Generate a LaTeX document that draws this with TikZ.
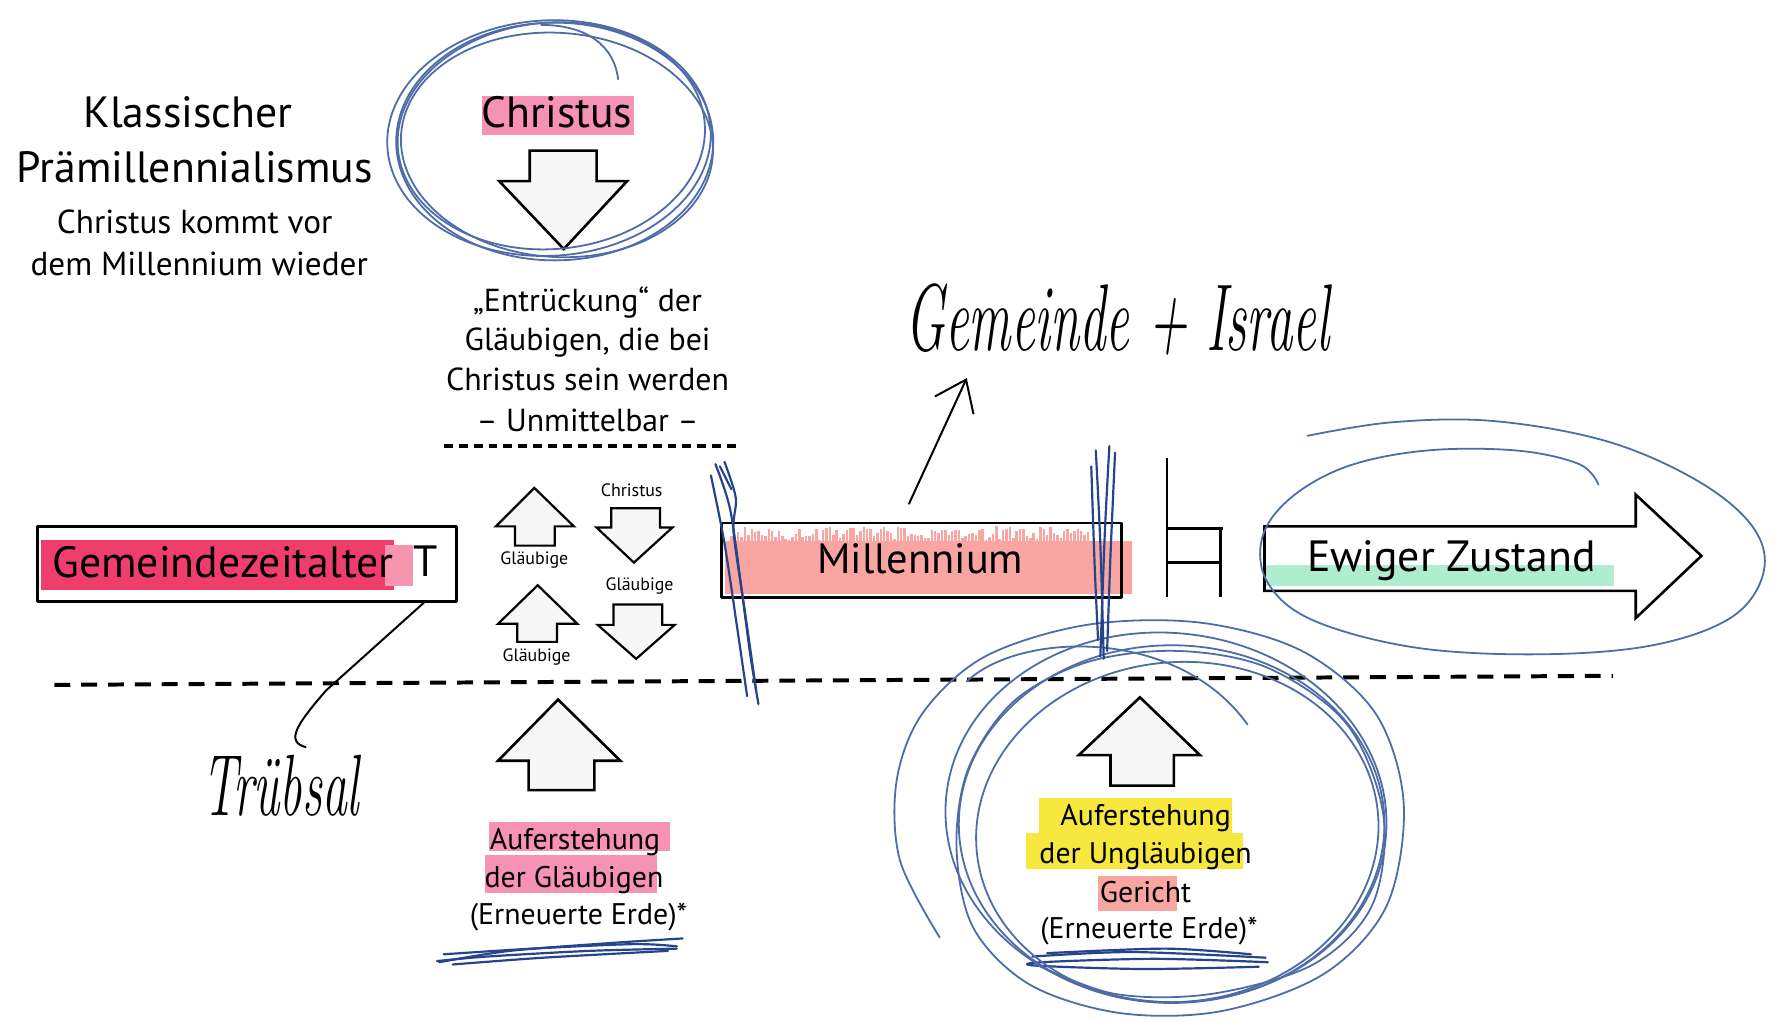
\documentclass[tikz,border=0pt]{standalone}
\usepackage{fontspec}
\setmainfont{PT Sans}
\newfontfamily\handfont{Latin Modern Roman}
\usetikzlibrary{arrows.meta}
\definecolor{penblue}{RGB}{78,108,168}
\definecolor{navy}{RGB}{38,68,140}
\definecolor{hlpink}{RGB}{240,62,108}
\definecolor{hlrose}{RGB}{246,146,182}
\definecolor{hlsalmon}{RGB}{249,166,162}
\definecolor{hlyellow}{RGB}{246,232,62}
\definecolor{hlmint}{RGB}{176,236,208}
\begin{document}
\begin{tikzpicture}[x=0.02cm,y=-0.02cm,line join=round]
\tikzset{
 shapeln/.style={draw=black,line width=1.3pt,fill=black!3,line join=miter},
 pen/.style={draw=penblue,line width=0.9pt,line cap=round},
 strike/.style={draw=navy,line width=1.1pt,line cap=round},
 handln/.style={draw=black,line width=1pt,line cap=round},
 bigtxt/.style={font=\fontsize{22}{26}\selectfont,inner sep=0pt,anchor=base},
 midtxt/.style={font=\fontsize{16}{20}\selectfont,inner sep=0pt,anchor=base},
 subtxt/.style={font=\fontsize{16.7}{20}\selectfont,inner sep=0pt,anchor=base},
 smalltxt/.style={font=\fontsize{9}{11}\selectfont,inner sep=0pt,anchor=base},
 lbltxt/.style={font=\fontsize{15}{19}\selectfont,inner sep=0pt,anchor=base},
 handtxt/.style={font=\handfont\itshape,inner sep=0pt,anchor=base},
 boxnode/.style={draw=black,line width=1.5pt,inner sep=0pt},
}
\useasboundingbox (0,0) rectangle (1568,902);
\fill[white] (0,0) rectangle (1568,902);

% ---------- title ----------
\node[bigtxt] (t1) at (166,113) {Klassischer};
\node[bigtxt] (t2) at (172,161) {Prämillennialismus};
\node[subtxt] (t3) at (172,206) {Christus kommt vor};
\node[subtxt] (t4) at (176,243) {dem Millennium wieder};

% ---------- Christus circle ----------
\fill[hlrose] (426,85) rectangle (560,119);
\node[bigtxt] (chr) at (492,113) {Christus};
\draw[shapeln] (468,133)--(527,133)--(527,160)--(554,160)--(498,220)--(441,160)--(468,160)--cycle;
\draw[pen] (490,125) ellipse [x radius=140,y radius=105];
\draw[pen,rotate around={5:(487,120)}] (487,120) ellipse [x radius=136,y radius=100];
\draw[pen,rotate around={-4:(492,128)}] (492,128) ellipse [x radius=138,y radius=99];
\draw[pen,rotate around={3:(485,122)}] (485,122) ellipse [x radius=143,y radius=104];
\draw[pen] (546,70) .. controls (543,42) and (520,22) .. (478,22);

\node[midtxt] (e1) at (519,275) {„Entrückung“ der};
\node[midtxt] (e2) at (519,310) {Gläubigen, die bei};
\node[midtxt] (e3) at (519,345) {Christus sein werden};
\node[midtxt] (e4) at (519,381) {– Unmittelbar –};
\draw[line width=2.2pt,dash pattern=on 4.5pt off 3pt] (392,394) -- (655,394);

% ---------- long dashed line ----------
\draw[line width=2pt,dash pattern=on 8pt off 5.5pt] (48,605) -- (1425,597);

% ---------- Gemeindezeitalter ----------
\fill[hlpink] (36,477) rectangle (348,521);
\fill[hlpink!55] (340,481) rectangle (365,518);
\node[boxnode,minimum width=7.4cm,minimum height=1.32cm] (gzbox) at (218,498) {};
\node[bigtxt] (gz) at (197,510) {Gemeindezeitalter};
\node[bigtxt] (gzT) at (376,509) {T};

% ---------- small arrows ----------
\draw[shapeln,line width=1.1pt] (455,482)--(490,482)--(490,465)--(507,465)--(472,431)--(438,465)--(455,465)--cycle;
\draw[shapeln,line width=1.1pt] (540,449)--(583,449)--(583,466)--(594,466)--(560,497)--(527,466)--(540,466)--cycle;
\draw[shapeln,line width=1.1pt] (457,567)--(492,567)--(492,551)--(510,551)--(475,517)--(440,551)--(457,551)--cycle;
\draw[shapeln,line width=1.1pt] (542,534)--(585,534)--(585,552)--(596,552)--(562,582)--(528,552)--(542,552)--cycle;
\node[smalltxt] (s1) at (558,439) {Christus};
\node[smalltxt] (s2) at (472,499) {Gläubige};
\node[smalltxt] (s3) at (565,522) {Gläubige};
\node[smalltxt] (s4) at (474,584) {Gläubige};

% ---------- Millennium ----------
\fill[hlsalmon] (640,478) rectangle (1000,525);
\pgfmathsetseed{11}
\foreach \i in {0,...,105} {
  \pgfmathsetmacro\xx{645+\i*3}
  \pgfmathsetmacro\hh{465+rnd*13}
  \fill[hlsalmon] (\xx,\hh) rectangle (\xx+2.2,480);
}
\node[boxnode,minimum width=7.08cm,minimum height=1.32cm] (mbox) at (814,495) {};
\node[bigtxt,font=\fontsize{21.3}{26}\selectfont] (mil) at (813,507) {Millennium};

% ---------- H symbol ----------
\draw[line width=1.3pt] (1031,405) -- (1031,527);
\draw[line width=1.3pt] (1078,467) -- (1078,527);
\draw[line width=1.3pt] (1031,467) -- (1080,467);
\draw[line width=1.3pt] (1031,497) -- (1078,497);

% ---------- Ewiger Zustand ----------
\draw[shapeln,fill=white] (1117,465)--(1445,465)--(1445,437)--(1503,491)--(1445,546)--(1445,522)--(1117,522)--cycle;
\fill[hlmint] (1118,499) rectangle (1426,518);
\node[bigtxt] (ew) at (1282,505) {Ewiger Zustand};
\draw[pen] plot[smooth,tension=0.6] coordinates {(1155,385) (1230,373) (1320,372) (1420,390) (1500,425) (1548,465) (1558,505) (1530,545) (1460,570) (1360,578) (1250,572) (1160,548) (1120,515) (1115,475) (1140,440) (1190,412) (1260,398) (1340,398) (1395,410) (1412,428)};

% ---------- handwriting ----------
\node[handtxt] (gi) at (987,310) {\scalebox{1}[1.8]{\fontsize{26.5}{30}\selectfont Gemeinde + Israel}};
\coordinate (gistart) at (803,445);
\coordinate (gitip) at (854,334);
\draw[handln,-{Straight Barb[length=0.5cm,width=0.75cm]}] (gistart) -- (gitip);

\node[handtxt] (trub) at (248,720) {\scalebox{1}[1.75]{\fontsize{25}{28}\selectfont Trübsal}};
\coordinate (tstart) at (376,531);
\coordinate (tend) at (270,660);
\draw[handln] (tstart) -- (288,610) .. controls (262,640) and (252,655) .. (tend);

% ---------- lower left ----------
\draw[shapeln] (467,698)--(525,698)--(525,672)--(548,672)--(493,618)--(440,672)--(467,672)--cycle;
\fill[hlrose] (432,726) rectangle (592,752);
\fill[hlrose] (428,755) rectangle (580,789);
\node[lbltxt] (l1) at (508,750) {Auferstehung};
\node[lbltxt] (l2) at (507,784) {der Gläubigen};
\node[lbltxt] (l3) at (511,817) {(Erneuerte Erde)*};
\draw[strike] plot[smooth] coordinates {(388,850) (450,840) (540,833) (603,829)};
\draw[strike] plot[smooth] coordinates {(392,843) (470,838) (560,834) (598,836)};
\draw[strike] plot[smooth] coordinates {(598,838) (520,840) (430,845) (386,849)};
\draw[strike] plot[smooth] coordinates {(400,852) (480,846) (590,840)};

% ---------- lower right ----------
\draw[shapeln] (981,694)--(1037,694)--(1037,667)--(1060,667)--(1007,616)--(953,667)--(981,667)--cycle;
\fill[hlyellow] (918,705) rectangle (1088,736);
\fill[hlyellow] (906,736) rectangle (1098,768);
\fill[hlsalmon] (970,774) rectangle (1040,805);
\node[lbltxt] (r1) at (1012,729) {Auferstehung};
\node[lbltxt] (r2) at (1012,763) {der Ungläubigen};
\node[lbltxt] (r3) at (1012,797) {Gericht};
\node[lbltxt] (r4) at (1015,829) {(Erneuerte Erde)*};
\draw[strike] plot[smooth] coordinates {(912,845) (1000,841) (1118,846)};
\draw[strike] plot[smooth] coordinates {(1120,850) (1020,847) (920,850) (915,853) (1010,856) (1112,854)};
\draw[strike] plot[smooth] coordinates {(925,842) (1030,838) (1105,843)};

\draw[pen] plot[smooth,tension=0.55] coordinates {(830,828) (795,760) (792,690) (815,630) (870,580) (960,552) (1060,550) (1150,575) (1215,630) (1240,710) (1225,800) (1170,860) (1080,893) (990,895) (910,870) (860,820) (845,750) (855,680) (895,620) (960,585) (1040,575) (1120,590) (1190,640) (1222,720) (1212,800) (1160,852) (1070,878) (985,878) (915,852)};
\draw[pen] (1035,728) ellipse [x radius=188,y radius=158];
\draw[pen,rotate around={6:(1040,735)}] (1040,735) ellipse [x radius=178,y radius=150];
\draw[pen,rotate around={-5:(1030,722)}] (1030,722) ellipse [x radius=195,y radius=163];
\draw[pen] (854,602) .. controls (900,558) and (1040,553) .. (1102,640);

% ---------- strike scribbles ----------
\draw[strike] plot[smooth] coordinates {(632,410) (645,450) (655,520) (663,580) (670,622)};
\draw[strike] plot[smooth] coordinates {(640,408) (650,440) (648,470) (658,540) (668,610)};
\draw[strike] plot[smooth] coordinates {(628,420) (640,480) (652,560) (660,615)};
\draw[strike] (636,412) -- (646,432);
\draw[strike] plot[smooth] coordinates {(968,398) (972,480) (975,582)};
\draw[strike] plot[smooth] coordinates {(980,394) (976,470) (972,580)};
\draw[strike] plot[smooth] coordinates {(985,400) (981,490) (978,575)};
\draw[strike] plot[smooth] coordinates {(964,412) (967,500) (970,565)};
\end{tikzpicture}
\end{document}
